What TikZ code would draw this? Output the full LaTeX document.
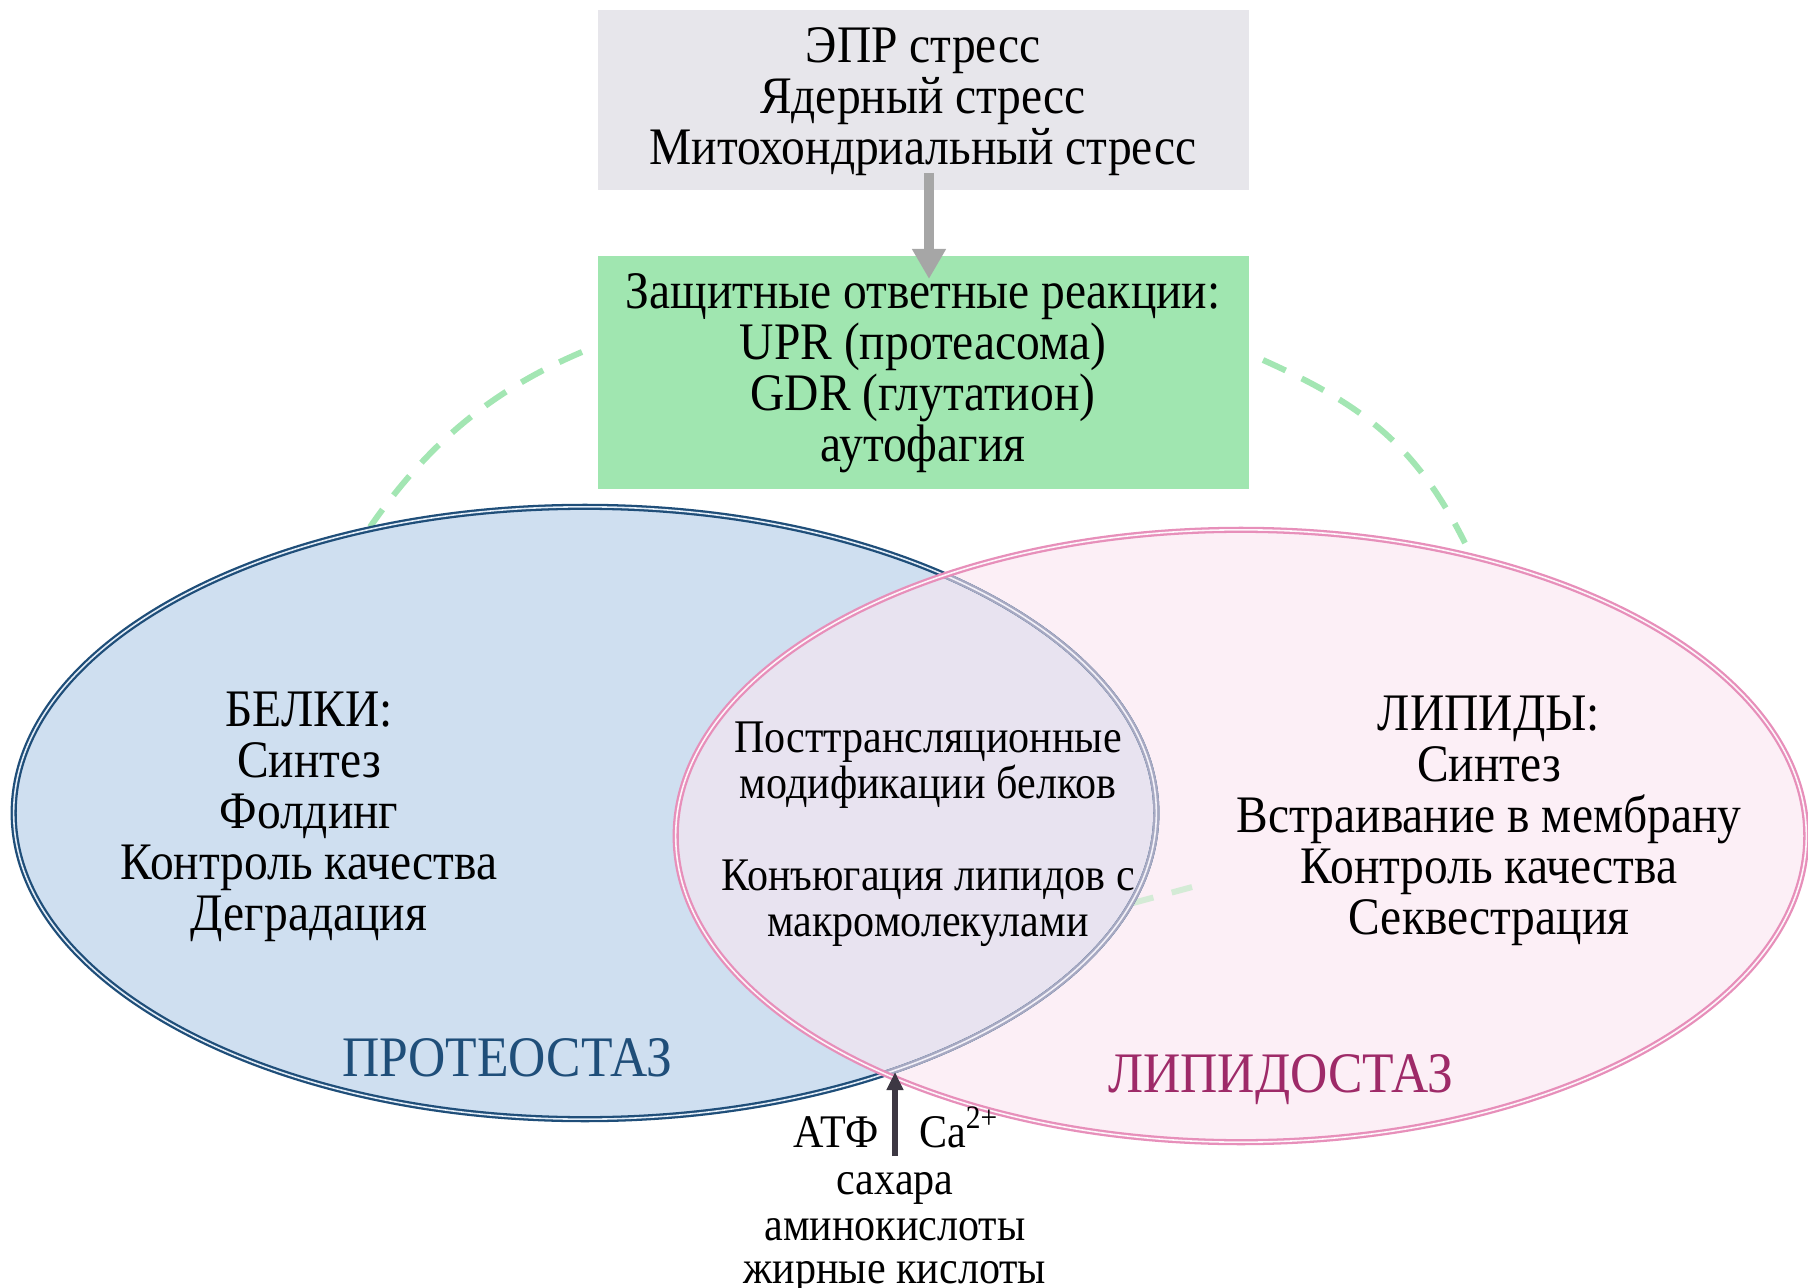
\documentclass[tikz,border=0pt]{standalone}
\usepackage{fontspec}
\setmainfont[FakeStretch=0.9]{Liberation Serif}
\usetikzlibrary{arrows.meta}
\definecolor{greyfill}{HTML}{E7E6EB}
\definecolor{greenfill}{HTML}{A0E6B0}
\definecolor{dashgreen}{HTML}{A3E6B3}
\definecolor{lightdash}{HTML}{D4EBD6}
\definecolor{protfill}{HTML}{CFDFF0}
\definecolor{protline}{HTML}{1F4E79}
\definecolor{lipfill}{HTML}{FCEFF6}
\definecolor{lipline}{HTML}{E78FBA}
\definecolor{interfill}{HTML}{E8E3F0}
\definecolor{greyline}{HTML}{A7A9C2}
\definecolor{liplabel}{HTML}{9E2A68}
\definecolor{arrowgrey}{HTML}{A6A6A6}
\definecolor{darkarrow}{HTML}{3D3843}
\tikzset{
  mainfont/.style={font=\fontsize{15}{14.5}\selectfont},
  boxgrey/.style={fill=greyfill, draw=none, minimum width=6.51cm, minimum height=1.80cm, inner sep=0pt},
  boxgreen/.style={fill=greenfill, draw=none, minimum width=6.51cm, minimum height=2.33cm, inner sep=0pt},
  txt/.style={align=center, inner sep=0pt, mainfont},
  smalltxt/.style={align=center, inner sep=0pt, font=\fontsize{13.3}{13.1}\selectfont},
  bottxt/.style={inner sep=0pt, anchor=base, font=\fontsize{13.3}{12.8}\selectfont},
  biglabel/.style={inner sep=0pt, font=\fontsize{16.3}{16}\selectfont},
  dashline/.style={draw=dashgreen, line width=1.7pt, dash pattern=on 7.1pt off 5.1pt},
  protborder/.style={draw=protline, line width=0.65pt, double=protfill!60!white, double distance=0.45pt},
  greyborder/.style={draw=greyline, line width=0.65pt, double=interfill!50!white, double distance=0.45pt},
  lipborder/.style={draw=lipline, line width=0.65pt, double=lipfill!60!white, double distance=0.45pt},
}
\begin{document}
\begin{tikzpicture}[x=0.01cm,y=-0.01cm]
\useasboundingbox (0,0) rectangle (1808,1288);
\coordinate (lc) at (585,813);
\coordinate (rc) at (1241,836);
% ellipses
\fill[protfill] (lc) ellipse [x radius=5.71cm, y radius=3.06cm];
\fill[lipfill] (rc) ellipse [x radius=5.65cm, y radius=3.06cm];
\begin{scope}
  \clip (rc) ellipse [x radius=5.65cm, y radius=3.06cm];
  \fill[interfill] (lc) ellipse [x radius=5.71cm, y radius=3.06cm];
\end{scope}
% dashed arcs
\coordinate (la0) at (582,352);
\coordinate (la1) at (370,527);
\coordinate (ra0) at (1263,360);
\coordinate (ra1) at (1465,543);
\draw[dashline] (la0) .. controls (490,391) and (427,445) .. (la1);
\draw[dashline] (ra0) .. controls (1363,405) and (1416,445) .. (ra1);
\coordinate (sd0) at (1133,903);
\coordinate (sd1) at (1196,886);
\draw[draw=lightdash, line width=1.7pt, dash pattern=on 6pt off 5.4pt] (sd0) -- (sd1);
% borders
\draw[protborder] (lc) ellipse [x radius=5.71cm, y radius=3.06cm];
\begin{scope}
  \clip (rc) ellipse [x radius=5.65cm, y radius=3.06cm];
  \draw[greyborder] (lc) ellipse [x radius=5.71cm, y radius=3.06cm];
\end{scope}
\draw[lipborder] (rc) ellipse [x radius=5.65cm, y radius=3.06cm];
% boxes
\node[boxgrey] (stress) at (923.5,100) {};
\node[boxgreen] (defense) at (923.5,372.5) {};
\node[txt] (stresstxt) at (923,102) {ЭПР стресс\\Ядерный стресс\\Митохондриальный стресс};
\node[txt] (defensetxt) at (923,373) {Защитные ответные реакции:\\UPR (протеасома)\\GDR (глутатион)\\аутофагия};
\coordinate (a0) at (929,173);
\coordinate (a1) at (929,279);
\draw[draw=arrowgrey, line width=2.85pt, -{Triangle[length=0.3cm, width=0.32cm]}] (a0) -- (a1);
% ellipse texts
\node[txt] (prot) at (309,817) {БЕЛКИ:\\Синтез\\Фолдинг\\Контроль качества\\Деградация};
\node[txt] (lip) at (1489,821) {ЛИПИДЫ:\\Синтез\\Встраивание в мембрану\\Контроль качества\\Секвестрация};
\node[smalltxt] (inter) at (928,834) {Посттрансляционные\\модификации белков\\[13.1pt]Конъюгация липидов с\\макромолекулами};
\node[biglabel, text=protline] (protlab) at (507,1058) {ПРОТЕОСТАЗ};
\node[biglabel, text=liplabel] (liplab) at (1281,1080) {ЛИПИДОСТАЗ};
% bottom
\coordinate (b0) at (895,1156);
\coordinate (b1) at (895,1072);
\draw[draw=darkarrow, line width=1.7pt, -{Triangle[length=0.18cm, width=0.16cm]}] (b0) -- (b1);
\node[bottxt] (atp) at (836,1147) {АТФ};
\node[bottxt] (ca) at (959,1147) {Ca\textsuperscript{2+}};
\node[bottxt] (sug) at (895,1194) {сахара};
\node[bottxt] (amino) at (895,1240) {аминокислоты};
\node[bottxt] (fat) at (895,1283) {жирные кислоты};
\end{tikzpicture}
\end{document}
